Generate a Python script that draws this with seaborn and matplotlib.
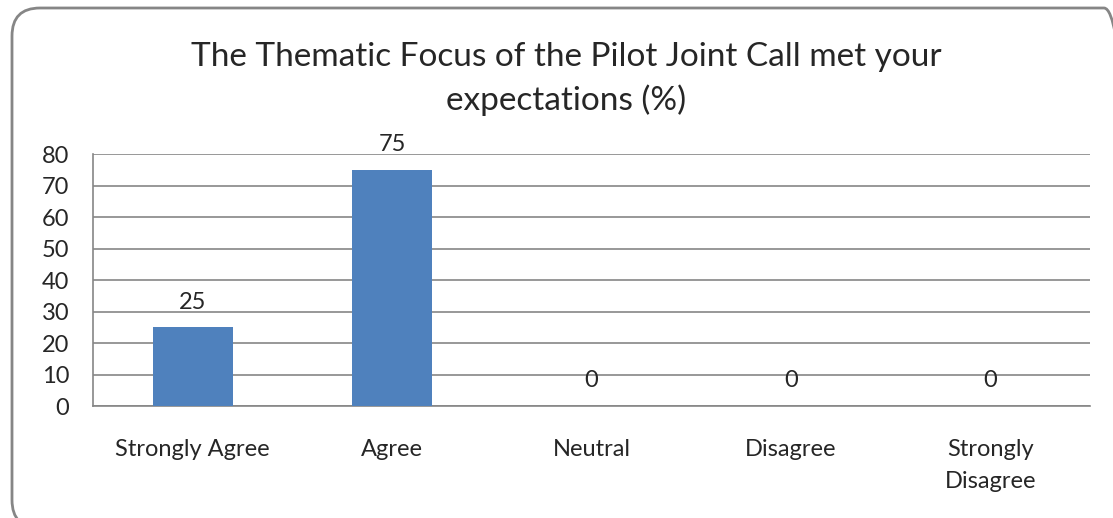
import matplotlib
matplotlib.use("Agg")
import matplotlib.pyplot as plt
import matplotlib.transforms as mtransforms
import seaborn as sns
import pandas as pd
from matplotlib.patches import FancyBboxPatch

categories = ["Strongly Agree", "Agree", "Neutral", "Disagree", "Strongly\nDisagree"]
values = [25, 75, 0, 0, 0]
yticks = [0, 10, 20, 30, 40, 50, 60, 70, 80]
title = "The Thematic Focus of the Pilot Joint Call met your\nexpectations (%)"

sns.set_theme(style="white")
plt.rcParams['font.family'] = ['Lato', 'DejaVu Sans']

fig = plt.figure(figsize=(11.13, 5.18), dpi=100)
ax = fig.add_axes([0.0836, 0.2162, 0.8957, 0.4865])

df = pd.DataFrame({"cat": categories, "val": values})
sns.barplot(data=df, x="cat", y="val", color="#4F81BD", saturation=1, width=0.40,
            linewidth=0, ax=ax, zorder=3)

ax.set_ylim(0, 80)
ax.set_xlim(-0.5, 4.5)
ax.set_yticks(yticks)
ax.set_yticklabels([str(t) for t in yticks], fontsize=17)
ax.tick_params(axis='x', labelsize=17, pad=24, length=0)
ax.tick_params(axis='y', length=0, pad=17)
for lab in ax.get_xticklabels():
    lab.set_linespacing(1.65)
ax.set_xlabel("")
ax.set_ylabel("")
ax.yaxis.grid(True, color="#868686", linewidth=1.2, zorder=0)
ax.set_axisbelow(True)
for s in ["top", "right"]:
    ax.spines[s].set_visible(False)
for s in ["left", "bottom"]:
    ax.spines[s].set_color("#868686")
    ax.spines[s].set_linewidth(1.2)

for i, v in enumerate(values):
    ax.annotate(str(v), xy=(i, v), xytext=(0, 13.5), textcoords="offset points",
                ha="center", va="baseline", fontsize=17)

fig.text(0.5085, 0.918, title, ha="center", va="top", fontsize=24, linespacing=1.48)

border = FancyBboxPatch((12, -10), 1120, 520,
                        boxstyle="round,pad=0,rounding_size=28",
                        transform=mtransforms.IdentityTransform(), fill=False,
                        edgecolor="#868686", linewidth=2)
fig.patches.append(border)

fig.savefig("out.png", dpi=100)
